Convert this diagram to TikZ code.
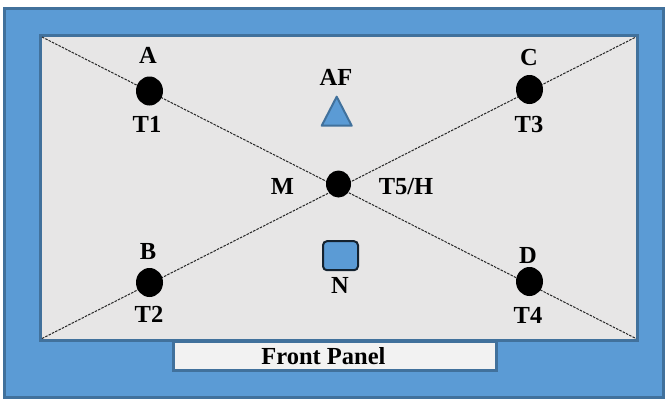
\documentclass[tikz,border=0pt]{standalone}
\usepackage{fontspec}
\setmainfont{Liberation Serif}
\usetikzlibrary{shapes}
\definecolor{panelblue}{HTML}{5B9BD5}
\definecolor{edgeblue}{HTML}{41719C}
\definecolor{boardgray}{HTML}{E7E6E6}
\definecolor{frontgray}{HTML}{F2F2F2}

\begin{document}
\begin{tikzpicture}[x=1pt,y=-1pt]
    \tikzstyle{every node}=[font=\fontsize{24.5}{27}\selectfont\bfseries, inner sep=0pt]
    \tikzstyle{sensor}=[ellipse, fill=black, minimum width=27pt, minimum height=29pt]
    \tikzstyle{cross}=[line width=1pt, black!85, dash pattern=on 2.5pt off 1.2pt]
    \tikzstyle{frame}=[draw=edgeblue, line width=3pt]
    \useasboundingbox (0,0) rectangle (665,400);
    \draw[frame, fill=panelblue] (4.5,8) rectangle (663,397.5);
    \draw[frame, fill=boardgray] (40.7,35.3) rectangle (637,340);
    \node[frame, fill=frontgray, draw, minimum width=323pt, minimum height=29pt] (front) at (335,355.5) {};
    \node (frontlbl) at (323.5,356) {Front Panel};
    \coordinate (tl) at (42,37);
    \coordinate (tr) at (636,37);
    \coordinate (bl) at (42,338.5);
    \coordinate (br) at (636,338.5);
    \draw[cross] (tl) -- (br);
    \draw[cross] (bl) -- (tr);
    \node[sensor] (t1) at (149.5,91) {};
    \node[sensor] (t3) at (529.5,89.5) {};
    \node[sensor] (t2) at (149.5,282.5) {};
    \node[sensor] (t4) at (529.5,281.5) {};
    \node[sensor, minimum width=25pt, minimum height=27pt] (t5) at (338.5,184) {};
    \node (a) at (148,55) {A};
    \node (t1lbl) at (147,124) {T1};
    \node (c) at (529,58) {C};
    \node (t3lbl) at (529,124.5) {T3};
    \node (b) at (148,252) {B};
    \node (t2lbl) at (149,314.5) {T2};
    \node (d) at (528,255) {D};
    \node (t4lbl) at (528,315) {T4};
    \node (m) at (282.5,186.5) {M};
    \node (t5lbl) at (406,186.5) {T5/H};
    \node (af) at (336,77.5) {AF};
    \draw[fill=panelblue, draw=edgeblue, line width=2pt, line join=round] (321.7,125.7) -- (336.7,96.7) -- (351.7,125.7) -- cycle;
    \node[draw=black!70!edgeblue, fill=panelblue, line width=2pt, rounded corners=4pt, minimum width=35pt, minimum height=29pt] (n) at (340.5,255.7) {};
    \node (nlbl) at (340,285) {N};
\end{tikzpicture}
\end{document}
